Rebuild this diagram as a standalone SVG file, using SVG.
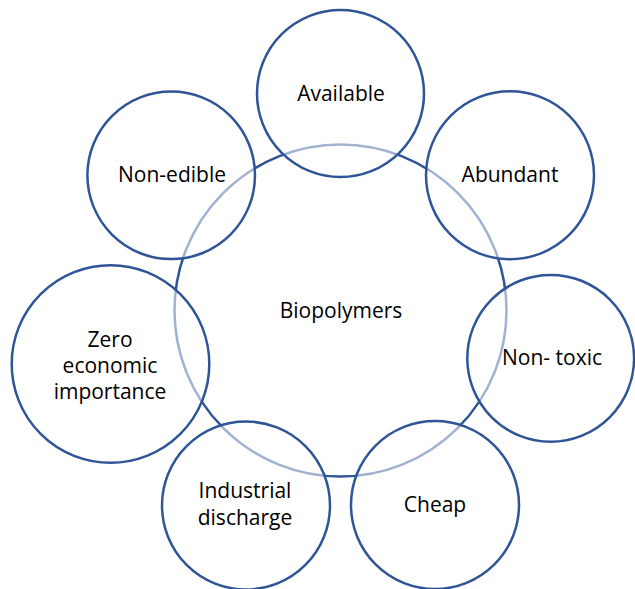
<svg xmlns="http://www.w3.org/2000/svg" width="635" height="589" viewBox="0 0 635 589">
  <style>
    .hub { fill: #ffffff; stroke: #2F5597; stroke-width: 2.5; }
    .sat { fill: #ffffff; fill-opacity: 0.55; stroke: #2F5597; stroke-width: 2.5; }
    text { font-family: "Open Sans", "Liberation Sans", sans-serif; font-size: 21px; fill: #000000; text-anchor: middle; }
  </style>
  <rect width="635" height="589" fill="#ffffff"/>
  <g id="biopolymers">
    <circle class="hub" cx="340.5" cy="310.5" r="166"/>
    <text x="341" y="318">Biopolymers</text>
  </g>
  <g id="available">
    <circle class="sat" cx="340.5" cy="93.5" r="83.5"/>
    <text x="341" y="101">Available</text>
  </g>
  <g id="non-edible">
    <circle class="sat" cx="171.2" cy="175.3" r="83.8"/>
    <text x="172" y="182">Non-edible</text>
  </g>
  <g id="abundant">
    <circle class="sat" cx="510" cy="175.3" r="84"/>
    <text x="510" y="182">Abundant</text>
  </g>
  <g id="non-toxic">
    <circle class="sat" cx="550.7" cy="358.3" r="83.4"/>
    <text x="552" y="365">Non- toxic</text>
  </g>
  <g id="zero-economic-importance">
    <circle class="sat" cx="110.5" cy="364" r="98.8"/>
    <text x="110" y="347">Zero</text>
    <text x="110" y="373">economic</text>
    <text x="110" y="399">importance</text>
  </g>
  <g id="industrial-discharge">
    <circle class="sat" cx="246" cy="505.5" r="84"/>
    <text x="245" y="498">Industrial</text>
    <text x="245" y="525">discharge</text>
  </g>
  <g id="cheap">
    <circle class="sat" cx="435" cy="505" r="84"/>
    <text x="435" y="512">Cheap</text>
  </g>
  <g id="connectors"/>
</svg>
